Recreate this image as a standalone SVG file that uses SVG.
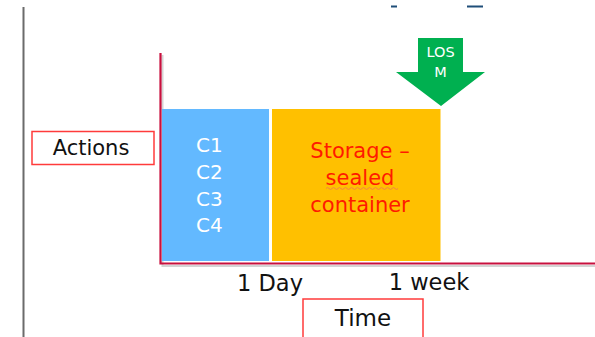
<svg xmlns="http://www.w3.org/2000/svg" width="595" height="337" viewBox="0 0 595 337">
<defs>
<style>
text{font-family:"DejaVu Sans","Liberation Sans",sans-serif;}
.lbl{fill:#111;text-anchor:middle;}
.box{fill:#fff;stroke:#ff3b3b;stroke-width:1.5;}
.c{fill:#fff;font-size:20px;}
.st{fill:#ff1a00;font-size:21px;text-anchor:middle;}
.axis{stroke:#c8103e;stroke-width:2.2;fill:none;}
.shadow{stroke:#b8b8b8;stroke-width:2;fill:none;opacity:0.6;}
</style>
</defs>
<rect width="595" height="337" fill="#fff"/>
<line x1="23.5" y1="7" x2="23.5" y2="337" stroke="#6b6b6b" stroke-width="2"/>
<rect x="391" y="5.5" width="6" height="2" fill="#1f4e79"/>
<rect x="467" y="5.5" width="16" height="2" fill="#1f4e79"/>
<g id="connectors">
<polyline class="shadow" points="162.5,55 162.5,266 595,266"/>
<polyline class="axis" points="160.5,53 160.5,263.5 595,263.5"/>
</g>
<g id="actions">
<rect class="box" x="32" y="131.5" width="122" height="33"/>
<text class="lbl" x="91" y="155" font-size="21">Actions</text>
</g>
<g id="c-block">
<rect x="162" y="109" width="107" height="152" fill="#63b9ff"/>
<text class="c" x="196" y="152">C1</text>
<text class="c" x="196" y="179">C2</text>
<text class="c" x="196" y="205.5">C3</text>
<text class="c" x="196" y="232">C4</text>
</g>
<g id="storage">
<rect x="272" y="109" width="168.5" height="152" fill="#ffc000"/>
<text class="st" x="360" y="158">Storage –</text>
<text class="st" x="360" y="185">sealed</text>
<text class="st" x="360" y="212">container</text>
<path d="M326 188.5 q1.5 -2 3 0 t3 0 t3 0 t3 0 t3 0 t3 0 t3 0 t3 0 t3 0 t3 0 t3 0 t3 0 t3 0 t3 0 t3 0 t3 0 t3 0 t3 0 t3 0 t3 0 t3 0 t3 0 t3 0 t3 0" fill="none" stroke="#f07a50" stroke-width="0.9"/>
</g>
<g id="losm">
<polygon points="418,38 463,38 463,72 485,72 441,106 396,72 418,72" fill="#00b050"/>
<text x="440.5" y="57" fill="#fff" font-size="14.5" text-anchor="middle">LOS</text>
<text x="440.5" y="77" fill="#fff" font-size="14.5" text-anchor="middle">M</text>
</g>
<g id="ticks">
<text class="lbl" x="270" y="291" font-size="22.5">1 Day</text>
<text class="lbl" x="429" y="290" font-size="22.5">1 week</text>
</g>
<g id="time">
<rect class="box" x="303" y="299" width="120" height="44"/>
<text class="lbl" x="363" y="326" font-size="23">Time</text>
</g>
</svg>
